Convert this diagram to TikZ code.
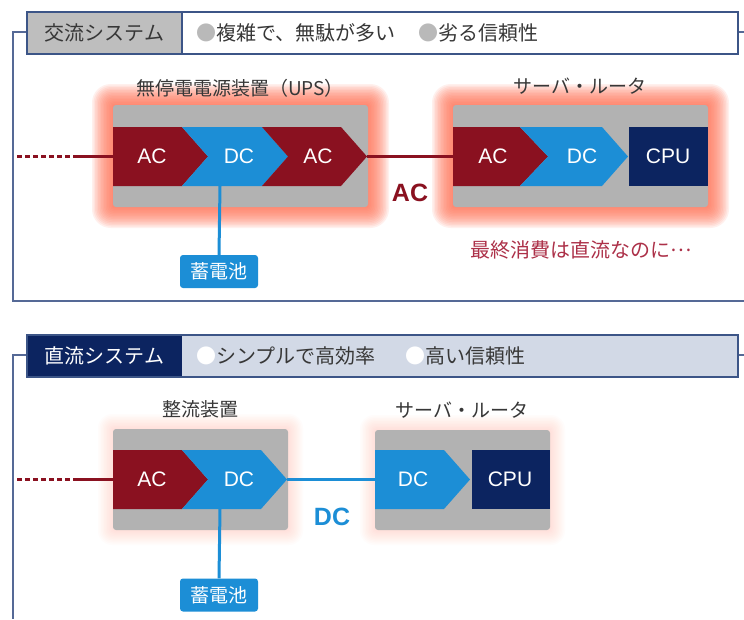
\documentclass[tikz,border=0pt]{standalone}
\usepackage{fontspec}
\setmainfont{Noto Sans CJK JP}
\newfontfamily\latin{Liberation Sans}

\definecolor{acred}{RGB}{138,17,32}
\definecolor{dcblue}{RGB}{28,142,214}
\definecolor{navy}{RGB}{12,36,96}
\definecolor{boxgray}{RGB}{178,178,178}
\definecolor{glowc}{RGB}{255,112,82}
\definecolor{glowpale}{RGB}{255,140,110}
\definecolor{framec}{RGB}{85,105,150}
\definecolor{hdrborder}{RGB}{60,85,135}
\definecolor{cellgray}{RGB}{190,190,190}
\definecolor{hdrlight}{RGB}{210,217,230}
\definecolor{txtdark}{RGB}{55,55,55}
\definecolor{bulgray}{RGB}{185,185,185}
\definecolor{msgred}{RGB}{172,48,72}

\newcommand\myglow[7]{%
  \foreach \i in {1,...,#5}{%
    \pgfmathsetmacro\rr{1.2*\i+2}%
    \fill[#7,opacity=#6,rounded corners=\rr pt]
      ({#1-1.5*\i},{#2-1.5*\i}) rectangle ({#3+1.5*\i},{#4+1.5*\i});}}

\tikzset{
  lbl/.style={font=\fontsize{19}{19}\selectfont, text=txtdark, inner sep=0pt},
  bullbl/.style={font=\fontsize{20}{20}\selectfont, text=txtdark, inner sep=0pt, anchor=west},
  hdrlbl/.style={font=\fontsize{20}{20}\selectfont, inner sep=0pt},
  chevtxt/.style={font=\latin\fontsize{21}{21}\selectfont, text=white, inner sep=0pt},
  bigac/.style={font=\latin\bfseries\fontsize{25}{25}\selectfont, text=acred, inner sep=0pt},
  bigdc/.style={font=\latin\bfseries\fontsize{25}{25}\selectfont, text=dcblue, inner sep=0pt},
  battery/.style={rectangle, fill=dcblue, rounded corners=3pt, minimum width=78pt,
    minimum height=33pt, inner sep=0pt, text=white, font=\fontsize{19}{19}\selectfont},
  frameline/.style={draw=framec, line width=1.5pt},
  acwire/.style={draw=acred, line width=3pt},
  acdots/.style={draw=acred, line width=3pt, dash pattern=on 5pt off 3pt},
  dcwire/.style={draw=dcblue, line width=3pt},
  graybox/.style={fill=boxgray, rounded corners=3pt}
}

\begin{document}
\begin{tikzpicture}[x=1pt,y=-1pt]
\useasboundingbox (0,0) rectangle (744,619);
\fill[white] (0,0) rectangle (744,619);

% ================= TOP: AC system =================
\draw[frameline] (27,32) -- (13,32) -- (13,301) -- (744,301);
\draw[frameline] (738,32) -- (744,32);
\fill[white] (27,12) rectangle (738,54);
\fill[cellgray] (27,12) rectangle (182,54);
\draw[hdrborder, line width=1.8pt] (27,12) rectangle (738,54);
\draw[hdrborder, line width=1.8pt] (182,12) -- (182,54);
\node[hdrlbl, text=txtdark] (hdrA) at (104.5,33) {交流システム};
\node[bullbl] (bulA1) at (196,33) {{\color{bulgray}●}複雑で、無駄が多い};
\node[bullbl] (bulA2) at (418,33) {{\color{bulgray}●}劣る信頼性};

% glows
\myglow{113}{105}{368}{207}{14}{0.1}{glowc}
\myglow{453}{105}{708}{207}{14}{0.1}{glowc}
\fill[graybox] (113,105) rectangle (368,207);
\fill[graybox] (453,105) rectangle (708,207);

\node[lbl] (upsLbl) at (240,88) {無停電電源装置（UPS）};
\node[lbl] (srvLblA) at (580,86) {サーバ・ルータ};

% UPS chevrons
\fill[acred] (113,127) -- (182,127) -- (208,156.5) -- (182,186) -- (113,186) -- cycle;
\fill[dcblue] (182,127) -- (262,127) -- (288,156.5) -- (262,186) -- (182,186) -- (208,156.5) -- cycle;
\fill[acred] (262,127) -- (341,127) -- (367,156.5) -- (341,186) -- (262,186) -- (288,156.5) -- cycle;
\node[chevtxt] (upsAC1) at (152,156.5) {AC};
\node[chevtxt] (upsDC) at (239,156.5) {DC};
\node[chevtxt] (upsAC2) at (318,156.5) {AC};

% server chevrons
\fill[acred] (453,127) -- (520,127) -- (548,156.5) -- (520,186) -- (453,186) -- cycle;
\fill[dcblue] (520,127) -- (602,127) -- (628,156.5) -- (602,186) -- (520,186) -- (548,156.5) -- cycle;
\fill[navy] (629,127) rectangle (708,186);
\node[chevtxt] (srvAC) at (493,156.5) {AC};
\node[chevtxt] (srvDC) at (582,156.5) {DC};
\node[chevtxt] (srvCPU) at (668,156.5) {CPU};

% wires
\coordinate (srcA0) at (17,156.5);
\coordinate (srcA1) at (75,156.5);
\coordinate (upsIn) at (113,156.5);
\coordinate (upsOut) at (367,156.5);
\coordinate (srvIn) at (453,156.5);
\coordinate (upsBat) at (220,186);
\draw[acdots] (srcA0) -- (srcA1);
\draw[acwire] (srcA1) -- (upsIn);
\draw[acwire] (upsOut) -- (srvIn);
\node[bigac] (acLbl) at (410,193) {AC};

\node[battery] (batA) at (219,271.5) {蓄電池};
\draw[dcwire] (upsBat) -- (batA.north);

\node[font=\fontsize{20}{20}\selectfont, text=msgred, inner sep=0pt] (msg) at (581,250) {最終消費は直流なのに\raisebox{0.3em}{…}};

% ================= BOTTOM: DC system =================
\draw[frameline] (27,355) -- (13,355) -- (13,619);
\draw[frameline] (738,355) -- (744,355);
\fill[hdrlight] (182,335) rectangle (738,377);
\fill[navy] (27,335) rectangle (182,377);
\draw[hdrborder, line width=1.8pt] (27,335) rectangle (738,377);
\node[hdrlbl, text=white] (hdrB) at (104.5,356) {直流システム};
\node[bullbl] (bulB1) at (196,356) {{\color{white}●}シンプルで高効率};
\node[bullbl] (bulB2) at (405,356) {{\color{white}●}高い信頼性};

\myglow{113}{429}{288}{530}{10}{0.024}{glowpale}
\myglow{375}{430}{550}{530}{10}{0.024}{glowpale}
\fill[graybox] (113,429) rectangle (288,530);
\fill[graybox] (375,430) rectangle (550,530);

\node[lbl] (recLbl) at (200,409) {整流装置};
\node[lbl] (srvLblB) at (462,410) {サーバ・ルータ};

\fill[acred] (113,450) -- (182,450) -- (208,479.5) -- (182,509) -- (113,509) -- cycle;
\fill[dcblue] (182,450) -- (261,450) -- (287,479.5) -- (261,509) -- (182,509) -- (208,479.5) -- cycle;
\node[chevtxt] (recAC) at (152,479.5) {AC};
\node[chevtxt] (recDC) at (239,479.5) {DC};

\fill[dcblue] (375,450) -- (444,450) -- (470,479.5) -- (444,509) -- (375,509) -- cycle;
\fill[navy] (472,450) rectangle (550,509);
\node[chevtxt] (srvDC2) at (413,479.5) {DC};
\node[chevtxt] (srvCPU2) at (510,479.5) {CPU};

\coordinate (srcB0) at (17,479.5);
\coordinate (srcB1) at (75,479.5);
\coordinate (recIn) at (113,479.5);
\coordinate (recOut) at (287,479.5);
\coordinate (srv2In) at (375,479.5);
\coordinate (recBat) at (220,509);
\draw[acdots] (srcB0) -- (srcB1);
\draw[acwire] (srcB1) -- (recIn);
\draw[dcwire] (recOut) -- (srv2In);
\node[bigdc] (dcLbl) at (332,517) {DC};

\node[battery] (batB) at (219,595) {蓄電池};
\draw[dcwire] (recBat) -- (batB.north);
\end{tikzpicture}
\end{document}
